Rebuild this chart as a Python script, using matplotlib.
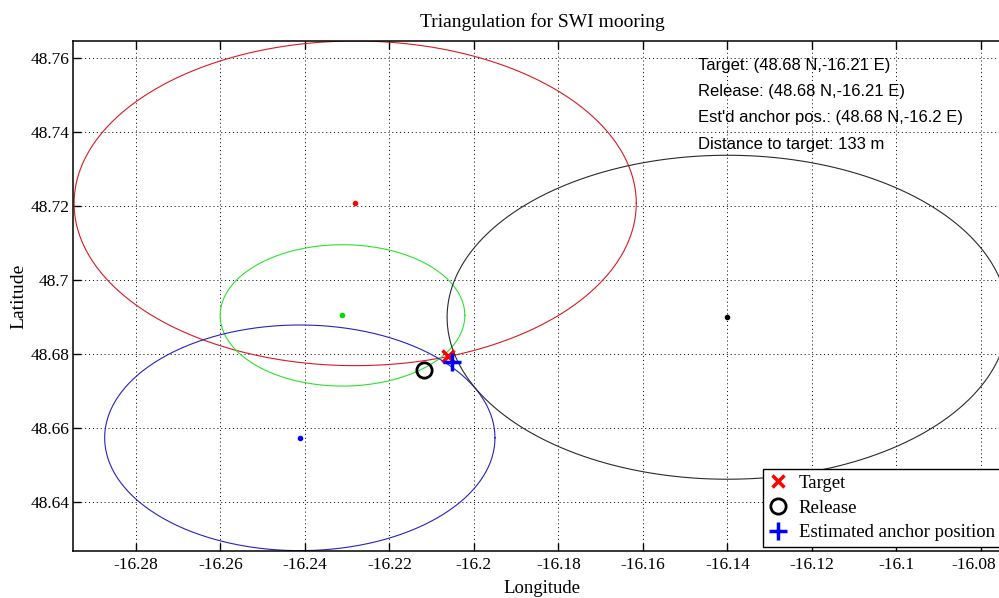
import numpy as np
import matplotlib
matplotlib.use("Agg")
from matplotlib import pyplot as plt
from matplotlib import transforms

# transponder positions (deg) and slant ranges (m)
stn_names = ["red", "green", "blue", "black"]
stn_lon = [-16.2281, -16.2311, -16.2412, -16.1400]
stn_lat = [48.7208, 48.6905, 48.6574, 48.6900]
stn_range = [4880.0, 2125.0, 3392.0, 4870.0]
line_cols = ["#d81a22", "#2ee02e", "#2424c0", "#2a2a2a"]
dot_cols = ["#ff0000", "#00e000", "#0000ff", "#000000"]

target = (-16.2061, 48.6796)
release = (-16.2117, 48.6758)
anchor = (-16.2053, 48.6780)

info_lines = [
    "Target: (48.68 N,-16.21 E)",
    "Release: (48.68 N,-16.21 E)",
    "Est'd anchor pos.: (48.68 N,-16.2 E)",
    "Distance to target: 133 m",
]

xticks = [-16.28, -16.26, -16.24, -16.22, -16.2, -16.18, -16.16, -16.14, -16.12, -16.1, -16.08]
yticks = [48.64, 48.66, 48.68, 48.7, 48.72, 48.74, 48.76]

serif = "Liberation Serif"
M_PER_DEG = 111195.0

fig = plt.figure(figsize=(9.99, 5.98), dpi=100)
ax = fig.add_axes([0.0734, 0.0786, 0.9386, 0.8523])

theta = np.linspace(0, 2 * np.pi, 400)
for lon, lat, r, lc, dc in zip(stn_lon, stn_lat, stn_range, line_cols, dot_cols):
    dlat = r / M_PER_DEG
    dlon = dlat / np.cos(np.radians(lat))
    ax.plot(lon + dlon * np.cos(theta), lat + dlat * np.sin(theta), color=lc, lw=0.8)
    ax.plot(lon, lat, "o", color=dc, ms=3, mec=dc)

h1, = ax.plot(*target, "x", color="#ff0000", ms=8, mew=2.5, label="Target")
h2, = ax.plot(*release, "o", mfc="none", mec="black", ms=11, mew=2, label="Release")
h3, = ax.plot(*anchor, "+", color="#0000ff", ms=13, mew=2.5, label="Estimated anchor position")

for i, s in enumerate(info_lines):
    ax.text(0.666, 0.9535 - i * 0.0517, s, transform=ax.transAxes,
            fontsize=12, family="Liberation Sans", va="center", ha="left")

ax.set_xlim(-16.2948, -16.0729)
ax.set_ylim(48.6268, 48.7646)
ax.set_xticks(xticks)
ax.set_yticks(yticks)
ax.set_xticklabels(["%g" % v for v in xticks], family=serif, fontsize=12.5)
ax.set_yticklabels(["%g" % v for v in yticks], family=serif, fontsize=12.5)
ax.tick_params(direction="in", top=True, right=True, length=6, width=1)
ax.tick_params(axis="x", pad=4.5)
ax.tick_params(axis="y", pad=3)
# last longitude label is nudged left so it stays inside the figure
last = ax.get_xticklabels()[-1]
last.set_transform(last.get_transform() + transforms.ScaledTranslation(-7 / 100, 0, fig.dpi_scale_trans))

ax.grid(True, linestyle=(0, (1, 3)), color="black", lw=0.7)
for sp in ax.spines.values():
    sp.set_linewidth(1.1)

ax.set_title("Triangulation for SWI mooring", family=serif, fontsize=14, pad=10)
ax.set_xlabel("Longitude", family=serif, fontsize=13.5, labelpad=5)
ax.set_ylabel("Latitude", family=serif, fontsize=14, labelpad=2)

leg = ax.legend(handles=[h1, h2, h3], loc="lower left", bbox_to_anchor=(0.7355, 0.008),
                prop={"family": serif, "size": 13.5}, fancybox=False, framealpha=1,
                edgecolor="black", handlelength=1.0, handletextpad=0.6,
                labelspacing=0.4, borderpad=0.3, borderaxespad=0)
leg.get_frame().set_linewidth(1)

plt.savefig("out.png", dpi=100)
